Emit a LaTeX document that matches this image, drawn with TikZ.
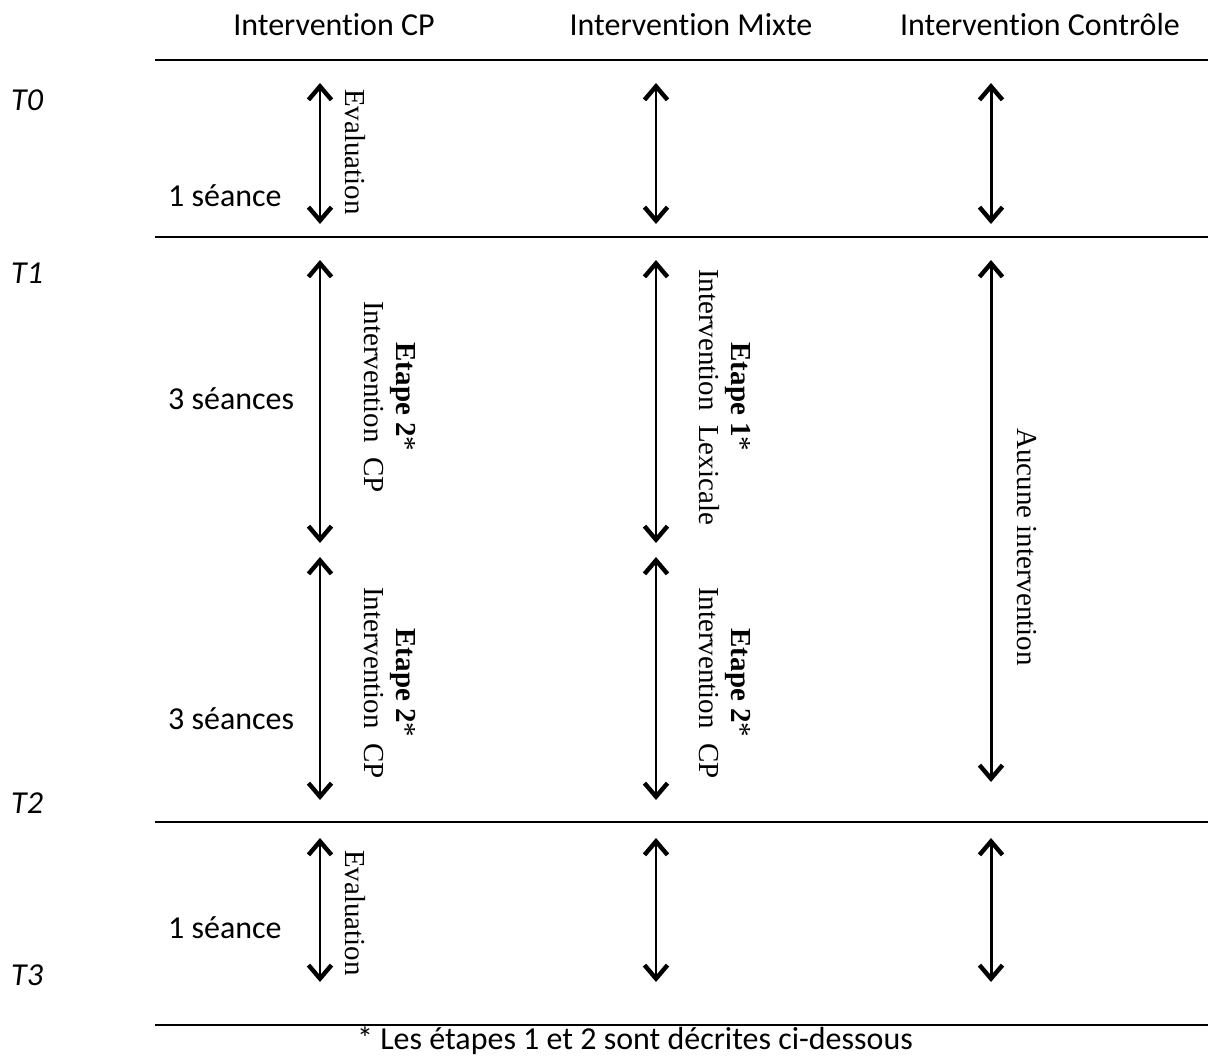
\documentclass[tikz,border=0pt]{standalone}
\usepackage{fontspec}
\setmainfont{Carlito}[Ligatures=NoCommon]
\newfontfamily\serifvert{Liberation Serif}
\usepackage{tikz}
\usetikzlibrary{arrows.meta, positioning}
\tikzset{
    entete/.style={font=\fontsize{18.2}{21}\selectfont, anchor=center},
    temps/.style={font=\fontsize{18.2}{21}\selectfont\itshape, anchor=west},
    seance/.style={font=\fontsize{18.2}{21}\selectfont, anchor=west},
    etape/.style={rotate=-90, align=center, font=\fontsize{16.5}{18.5}\selectfont\serifvert, inner sep=0pt},
    periode/.style={{Straight Barb[length=0.27cm, width=0.46cm, line width=2.5pt]}-{Straight Barb[length=0.27cm, width=0.46cm, line width=2.5pt]}, line width=1.7pt},
    ligne/.style={line width=1.4pt}
}

\begin{document}
\begin{tikzpicture}[x=0.02cm, y=-0.02cm]
    \useasboundingbox (0,0) rectangle (1208,1058);

    % Entetes
    \node[entete] (hCP) at (334,25) {Intervention CP};
    \node[entete] (hMixte) at (691,25) {Intervention Mixte};
    \node[entete] (hCtrl) at (1040,25) {Intervention Contrôle};

    % Lignes horizontales
    \coordinate (L0a) at (155,60);   \coordinate (L0b) at (1208,60);
    \coordinate (L1a) at (155,237);  \coordinate (L1b) at (1208,237);
    \coordinate (L2a) at (155,822);  \coordinate (L2b) at (1208,822);
    \coordinate (L3a) at (155,1025); \coordinate (L3b) at (1208,1025);
    \draw[ligne] (L0a) -- (L0b);
    \draw[ligne] (L1a) -- (L1b);
    \draw[ligne] (L2a) -- (L2b);
    \draw[ligne] (L3a) -- (L3b);

    % Temps
    \node[temps] (T0) at (5,100) {T0};
    \node[temps] (T1) at (5,273) {T1};
    \node[temps] (T2) at (5,803) {T2};
    \node[temps] (T3) at (5,975) {T3};

    % Seances
    \node[seance] (s1) at (162,196) {1 séance};
    \node[seance] (s2) at (162,399) {3 séances};
    \node[seance] (s3) at (162,719) {3 séances};
    \node[seance] (s4) at (162,928) {1 séance};

    % Fleches
    \foreach \c/\x in {cp/320, mx/656, ct/991} {
        \coordinate (\c A1) at (\x,83);
        \coordinate (\c A2) at (\x,224);
        \coordinate (\c D1) at (\x,838);
        \coordinate (\c D2) at (\x,982);
        \draw[periode] (\c A1) -- (\c A2);
        \draw[periode] (\c D1) -- (\c D2);
    }
    \coordinate (cpB1) at (320,260); \coordinate (cpB2) at (320,543);
    \coordinate (cpC1) at (320,557); \coordinate (cpC2) at (320,800);
    \coordinate (mxB1) at (656,260); \coordinate (mxB2) at (656,543);
    \coordinate (mxC1) at (656,557); \coordinate (mxC2) at (656,800);
    \coordinate (ctB1) at (991,260); \coordinate (ctB2) at (991,782);
    \draw[periode] (cpB1) -- (cpB2);
    \draw[periode] (cpC1) -- (cpC2);
    \draw[periode] (mxB1) -- (mxB2);
    \draw[periode] (mxC1) -- (mxC2);
    \draw[periode] (ctB1) -- (ctB2);

    % Textes verticaux
    \node[etape] (evalA) at (355,152) {Evaluation};
    \node[etape] (evalD) at (355,913) {Evaluation};
    \node[etape] (cpB) at (390,397) {\textbf{Etape 2}*\\Intervention\ \ CP};
    \node[etape] (cpC) at (390,683) {\textbf{Etape 2}*\\Intervention\ \ CP};
    \node[etape] (mxB) at (725,397) {\textbf{Etape 1}*\\Intervention\ \ Lexicale};
    \node[etape] (mxC) at (725,683) {\textbf{Etape 2}*\\Intervention\ \ CP};
    \node[etape] (ctB) at (1027,547) {Aucune intervention};

    % Note
    \node[entete, inner sep=1pt] (note) at (635,1041) {* Les étapes 1 et 2 sont décrites ci-dessous};
\end{tikzpicture}
\end{document}
